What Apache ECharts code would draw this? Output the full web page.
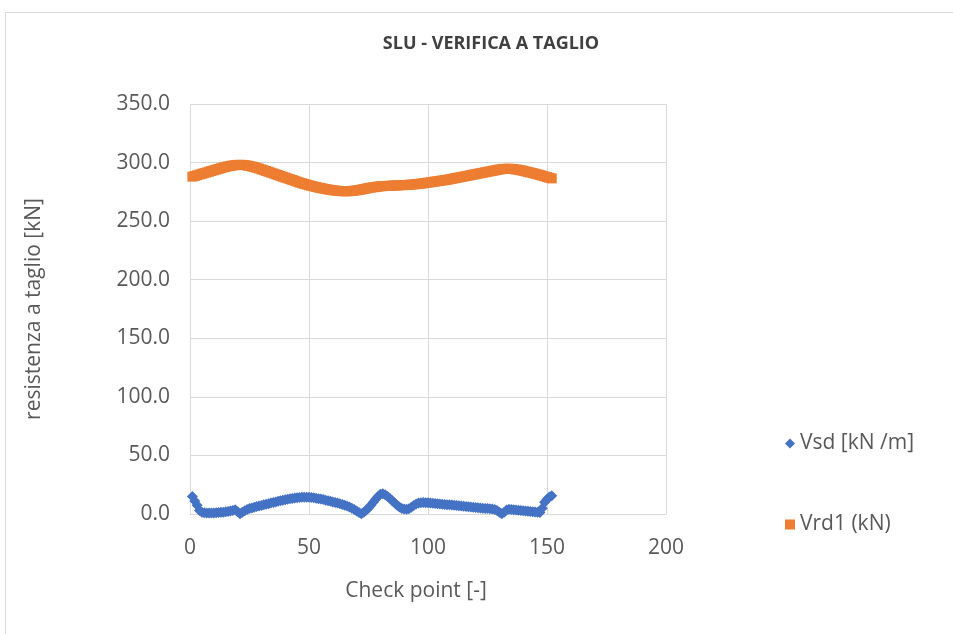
<!DOCTYPE html>
<html>
<head>
<meta charset="utf-8">
<script src="https://cdn.jsdelivr.net/npm/echarts@6/dist/echarts.min.js"></script>
<style>
  html, body { margin: 0; padding: 0; background: #fff; overflow: hidden; }
  #frame { position: absolute; left: 5px; top: 12px; width: 1000px; height: 700px; border: 1px solid #d9d9d9; }
  #chart { position: absolute; left: 0; top: 0; width: 953px; height: 634px; }
</style>
</head>
<body>
<div id="frame"></div>
<div id="chart"></div>
<script>
// check points (x) 1..152
const checkPoints = [
  1, 2, 3, 4, 5, 6, 7, 8, 9, 10, 11, 12, 13, 14, 15, 16, 17, 18, 19, 20,
  21, 22, 23, 24, 25, 26, 27, 28, 29, 30, 31, 32, 33, 34, 35, 36, 37, 38, 39, 40,
  41, 42, 43, 44, 45, 46, 47, 48, 49, 50, 51, 52, 53, 54, 55, 56, 57, 58, 59, 60,
  61, 62, 63, 64, 65, 66, 67, 68, 69, 70, 71, 72, 73, 74, 75, 76, 77, 78, 79, 80,
  81, 82, 83, 84, 85, 86, 87, 88, 89, 90, 91, 92, 93, 94, 95, 96, 97, 98, 99, 100,
  101, 102, 103, 104, 105, 106, 107, 108, 109, 110, 111, 112, 113, 114, 115, 116, 117, 118, 119, 120,
  121, 122, 123, 124, 125, 126, 127, 128, 129, 130, 131, 132, 133, 134, 135, 136, 137, 138, 139, 140,
  141, 142, 143, 144, 145, 146, 147, 148, 149, 150, 151, 152
];

// Vsd [kN /m]
const vsd = [
  15.0, 11.0, 7.5, 3.0, 1.5, 1.0, 0.8, 0.8, 0.8, 0.9, 1.0, 1.2, 1.4, 1.6, 1.9, 2.2, 2.6, 3.0, 3.6, 2.0,
  0.2, 1.5, 2.8, 3.8, 4.6, 5.2, 5.8, 6.3, 6.8, 7.3, 7.8, 8.3, 8.8, 9.3, 9.8, 10.3, 10.8, 11.3, 11.8, 12.2,
  12.6, 13.0, 13.3, 13.6, 13.9, 14.1, 14.2, 14.3, 14.3, 14.2, 14.0, 13.8, 13.5, 13.1, 12.7, 12.3, 11.8, 11.3, 10.8, 10.3,
  9.8, 9.3, 8.8, 8.2, 7.5, 6.8, 6.0, 5.0, 3.8, 2.5, 1.2, 0.3, 1.5, 3.2, 5.2, 7.5, 10.0, 12.5, 15.0, 16.8,
  17.2, 16.5, 15.0, 13.2, 11.3, 9.3, 7.5, 6.0, 4.8, 4.2, 4.0, 4.5, 5.8, 7.2, 8.5, 9.3, 9.7, 9.8, 9.7, 9.5,
  9.3, 9.1, 9.0, 8.8, 8.6, 8.4, 8.2, 8.0, 7.8, 7.6, 7.4, 7.2, 7.0, 6.8, 6.6, 6.4, 6.2, 6.0, 5.8, 5.6,
  5.4, 5.2, 5.0, 4.8, 4.6, 4.4, 4.2, 3.8, 3.0, 1.5, 0.3, 1.5, 3.5, 4.0, 3.8, 3.6, 3.4, 3.2, 3.0, 2.8,
  2.6, 2.4, 2.2, 2.0, 1.8, 1.5, 1.2, 5.0, 10.0, 12.5, 14.5, 15.5
];

// Vrd1 (kN)
const vrd1 = [
  288.0, 288.6, 289.2, 289.8, 290.4, 291.0, 291.6, 292.2, 292.8, 293.4, 294.0, 294.6, 295.2, 295.8, 296.3, 296.8, 297.2, 297.5, 297.8, 298.0,
  298.1, 298.0, 297.8, 297.5, 297.1, 296.6, 296.1, 295.5, 294.9, 294.2, 293.5, 292.8, 292.1, 291.4, 290.7, 290.0, 289.3, 288.6, 287.9, 287.2,
  286.5, 285.8, 285.1, 284.4, 283.7, 283.0, 282.4, 281.8, 281.2, 280.6, 280.1, 279.6, 279.1, 278.6, 278.2, 277.8, 277.4, 277.0, 276.7, 276.4,
  276.1, 275.9, 275.7, 275.6, 275.5, 275.5, 275.6, 275.8, 276.0, 276.3, 276.6, 277.0, 277.4, 277.8, 278.2, 278.6, 278.9, 279.2, 279.5, 279.7,
  279.9, 280.0, 280.1, 280.2, 280.3, 280.4, 280.5, 280.6, 280.7, 280.8, 280.9, 281.0, 281.2, 281.4, 281.6, 281.8, 282.0, 282.3, 282.6, 282.9,
  283.2, 283.5, 283.8, 284.1, 284.4, 284.7, 285.0, 285.3, 285.7, 286.1, 286.5, 286.9, 287.3, 287.7, 288.1, 288.5, 288.9, 289.3, 289.7, 290.1,
  290.5, 290.9, 291.3, 291.7, 292.1, 292.5, 292.9, 293.3, 293.7, 294.1, 294.4, 294.6, 294.7, 294.7, 294.6, 294.4, 294.1, 293.8, 293.4, 293.0,
  292.5, 292.0, 291.5, 291.0, 290.5, 290.0, 289.4, 288.8, 288.2, 287.6, 287.0, 286.5
];

const xTicks = [0, 50, 100, 150, 200];
const yTicks = [0, 50, 100, 150, 200, 250, 300, 350];

const font = 'Open Sans';
const textColor = '#595959';
const gridColor = '#d9d9d9';

const chart = echarts.init(document.getElementById('chart'));

chart.setOption({
  animation: false,
  title: {
    text: 'SLU - VERIFICA A TAGLIO',
    left: 486,
    textAlign: 'center',
    top: 30,
    textStyle: { fontFamily: font, fontSize: 18, fontWeight: 'bold', color: '#404040' }
  },
  legend: {
    orient: 'vertical',
    left: 780,
    top: 428,
    itemGap: 60,
    itemWidth: 10,
    itemHeight: 10,
    textStyle: { fontFamily: font, fontSize: 21, color: textColor },
    data: [
      { name: 'Vsd [kN /m]', icon: 'diamond' },
      { name: 'Vrd1 (kN)', icon: 'rect' }
    ]
  },
  grid: { left: 190, right: 287, top: 104, bottom: 120 },
  xAxis: {
    type: 'value',
    min: xTicks[0],
    max: xTicks[xTicks.length - 1],
    interval: 50,
    name: 'Check point [-]',
    nameLocation: 'middle',
    nameGap: 67,
    nameTextStyle: { fontFamily: font, fontSize: 21, color: textColor, padding: [0, 24, 0, 0] },
    axisLine: { show: true, lineStyle: { color: gridColor } },
    axisTick: { show: false },
    axisLabel: { fontFamily: font, fontSize: 21, color: textColor, margin: 24 },
    splitLine: { show: true, lineStyle: { color: gridColor } }
  },
  yAxis: {
    type: 'value',
    min: yTicks[0],
    max: yTicks[yTicks.length - 1],
    interval: 50,
    name: 'resistenza a taglio [kN]',
    nameLocation: 'middle',
    nameGap: 145,
    nameTextStyle: { fontFamily: font, fontSize: 21, color: textColor },
    axisLine: { show: false },
    axisTick: { show: false },
    axisLabel: {
      fontFamily: font, fontSize: 21, color: textColor, margin: 20,
      formatter: v => v.toFixed(1)
    },
    splitLine: { show: true, lineStyle: { color: gridColor } }
  },
  series: [
    {
      name: 'Vsd [kN /m]',
      type: 'scatter',
      symbol: 'diamond',
      symbolSize: 11,
      itemStyle: { color: '#4472C4', opacity: 1 },
      data: checkPoints.map((x, i) => [x, vsd[i]])
    },
    {
      name: 'Vrd1 (kN)',
      type: 'scatter',
      symbol: 'rect',
      symbolSize: 10,
      itemStyle: { color: '#ED7D31', opacity: 1 },
      data: checkPoints.map((x, i) => [x, vrd1[i]])
    }
  ]
});
</script>
</body>
</html>
